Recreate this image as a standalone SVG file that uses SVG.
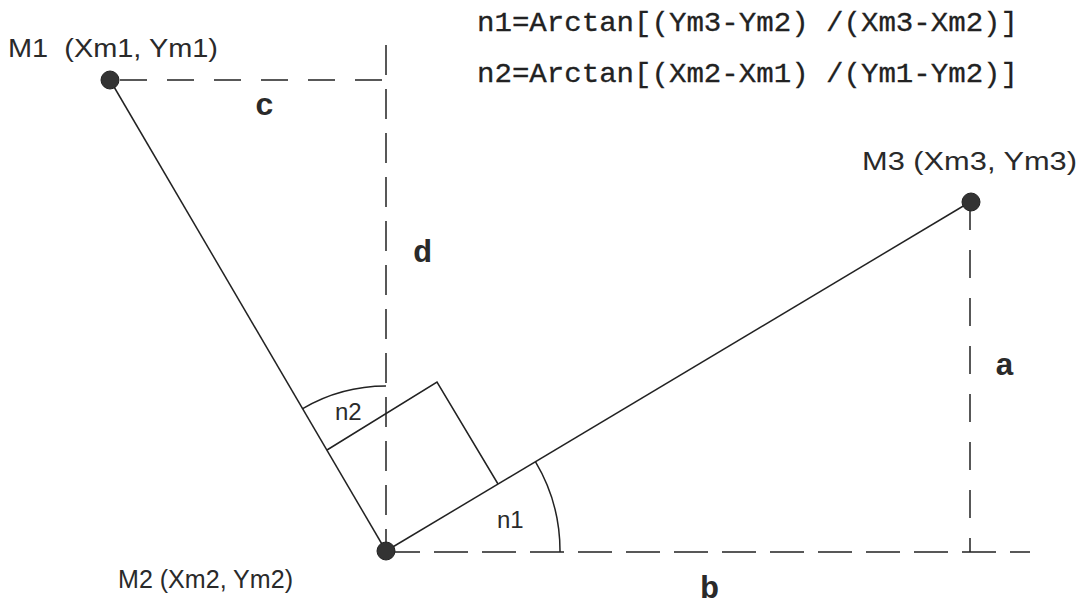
<svg xmlns="http://www.w3.org/2000/svg" width="1081" height="609" viewBox="0 0 1081 609">
<style>
.ln{stroke:#222;stroke-width:1.5;fill:none}
.dash{stroke:#222;stroke-width:1.5;fill:none}
.dot{fill:#333;stroke:#222;stroke-width:1}
.lbl{font-family:"Liberation Sans",Arial,sans-serif;font-size:25px;fill:#2a2a2a;white-space:pre}
.ang{font-family:"Liberation Sans",Arial,sans-serif;font-size:24px;fill:#2a2a2a}
.fx{font-family:"Liberation Mono","Courier New",monospace;font-size:28px;fill:#222;stroke:#222;stroke-width:0.3;white-space:pre}
.let{font-family:"Liberation Mono","Courier New",monospace;font-size:32px;font-weight:bold;fill:#2a2a2a}
</style>
<rect width="1081" height="609" fill="#ffffff"/>
<g id="connectors">
<line class="ln" x1="110" y1="80" x2="386" y2="551"/>
<line class="ln" x1="386" y1="551" x2="970" y2="202"/>
<polyline class="ln" points="327,450 437,382 498,484"/>
<path class="ln" d="M302.7,408.6 A165,165 0 0 1 386,386"/>
<path class="ln" d="M535.4,461.7 A174,174 0 0 1 560,552"/>
<line class="dash" x1="120" y1="80" x2="386" y2="80" stroke-dasharray="27 20"/>
<line class="dash" x1="386" y1="45" x2="386" y2="551" stroke-dasharray="30 14"/>
<line class="dash" x1="386" y1="552" x2="1030" y2="552" stroke-dasharray="34 14"/>
<line class="dash" x1="970" y1="202" x2="970" y2="552" stroke-dasharray="28 20"/>
</g>
<g id="M1">
<circle class="dot" cx="110" cy="80" r="9"/>
<text class="lbl" x="8" y="57" textLength="210" lengthAdjust="spacingAndGlyphs">M1  (Xm1, Ym1)</text>
</g>
<g id="M2">
<circle class="dot" cx="386" cy="551" r="9"/>
<text class="lbl" x="118" y="588" textLength="175" lengthAdjust="spacingAndGlyphs">M2 (Xm2, Ym2)</text>
</g>
<g id="M3">
<circle class="dot" cx="971" cy="202" r="9"/>
<text class="lbl" x="862" y="170" textLength="215" lengthAdjust="spacingAndGlyphs">M3 (Xm3, Ym3)</text>
</g>
<g id="formulas">
<text class="fx" x="477" y="31" textLength="541" lengthAdjust="spacingAndGlyphs">n1=Arctan[(Ym3-Ym2) /(Xm3-Xm2)]</text>
<text class="fx" x="477" y="82" textLength="541" lengthAdjust="spacingAndGlyphs">n2=Arctan[(Xm2-Xm1) /(Ym1-Ym2)]</text>
</g>
<g id="labels">
<text class="let" x="255" y="115">c</text>
<text class="let" x="413" y="262">d</text>
<text class="let" x="995" y="375">a</text>
<text class="let" x="700" y="598">b</text>
<text class="ang" x="335" y="420">n2</text>
<text class="ang" x="497" y="528">n1</text>
</g>
</svg>
